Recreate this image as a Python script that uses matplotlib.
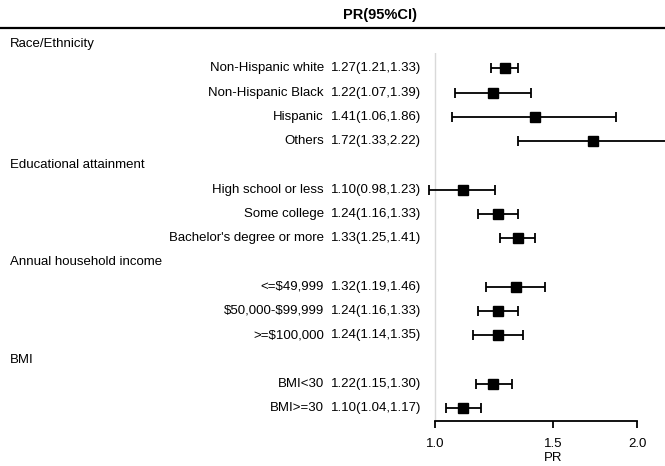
import matplotlib
matplotlib.use('Agg')
import matplotlib.pyplot as plt
from matplotlib.transforms import blended_transform_factory
from matplotlib.lines import Line2D
import numpy as np

plt.rcParams['font.family'] = ['Liberation Sans', 'DejaVu Sans']

# data
groups = ['Race/Ethnicity', 'Educational attainment', 'Annual household income', 'BMI']
labels = ['Non-Hispanic white', 'Non-Hispanic Black', 'Hispanic', 'Others',
          'High school or less', 'Some college', "Bachelor's degree or more",
          '<=$49,999', '$50,000-$99,999', '>=$100,000',
          'BMI<30', 'BMI>=30']
group_idx = [0, 0, 0, 0, 1, 1, 1, 2, 2, 2, 3, 3]
pr = [1.27, 1.22, 1.41, 1.72, 1.10, 1.24, 1.33, 1.32, 1.24, 1.24, 1.22, 1.10]
lo = [1.21, 1.07, 1.06, 1.33, 0.98, 1.16, 1.25, 1.19, 1.16, 1.14, 1.15, 1.04]
hi = [1.33, 1.39, 1.86, 2.22, 1.23, 1.33, 1.41, 1.46, 1.33, 1.35, 1.30, 1.17]
xticks = [1.0, 1.5, 2.0]

W, H = 665, 466
fig = plt.figure(figsize=(W / 100, H / 100), dpi=100)

# row positions: headers interleaved with items
row = 0
header_y = []
item_y = []
last = -1
for g in group_idx:
    if g != last:
        header_y.append(row)
        row += 1
        last = g
    item_y.append(row)
    row += 1

step = 24.27
top_px, bot_px = 53, 421
ax = fig.add_axes([420 / W, 1 - bot_px / H, 245 / W, (bot_px - top_px) / H])
ax.set_xscale('log')
ax.set_xlim(0.95, 2.2)
ax.set_ylim((bot_px - 44) / step, (top_px - 44) / step)

pr_a = np.array(pr)
ax.axvline(1.0, color='#d9d9d9', lw=1, zorder=0)
ax.errorbar(pr_a, item_y, xerr=[pr_a - np.array(lo), np.array(hi) - pr_a],
            fmt='s', color='black', ms=7, capsize=3.5, elinewidth=1.3,
            capthick=1.3)

for s in ['top', 'right', 'left']:
    ax.spines[s].set_visible(False)
ax.spines['bottom'].set_bounds(1.0, 2.0)
ax.spines['bottom'].set_linewidth(1.3)
ax.set_yticks([])
ax.xaxis.set_minor_locator(matplotlib.ticker.NullLocator())
ax.set_xticks(xticks)
ax.set_xticklabels(['%.1f' % t for t in xticks])
ax.tick_params(axis='x', length=5, width=1.3, pad=7, labelsize=9.5)

tr = blended_transform_factory(fig.transFigure, ax.transData)
for gy, name in zip(header_y, groups):
    ax.text(10 / W, gy, name, transform=tr, ha='left', va='center',
            fontsize=9.5, clip_on=False)
for y, lab, p, l, h in zip(item_y, labels, pr, lo, hi):
    ax.text(324 / W, y, lab, transform=tr, ha='right', va='center',
            fontsize=9.5, clip_on=False, parse_math=False)
    ax.text(331 / W, y, '%.2f(%.2f,%.2f)' % (p, l, h), transform=tr,
            ha='left', va='center', fontsize=9.5, clip_on=False)

trx = blended_transform_factory(ax.transData, fig.transFigure)
ax.text(1.5, 1 - 458 / H, 'PR', transform=trx, ha='center', va='center',
        fontsize=9.5, clip_on=False)

fig.text(380 / W, 1 - 15 / H, 'PR(95%CI)', ha='center', va='center',
         fontsize=10.5, fontweight='bold')
fig.add_artist(Line2D([0, 1], [1 - 28 / H, 1 - 28 / H], color='black', lw=1.6,
                      transform=fig.transFigure))

fig.savefig('out.png', dpi=100)
